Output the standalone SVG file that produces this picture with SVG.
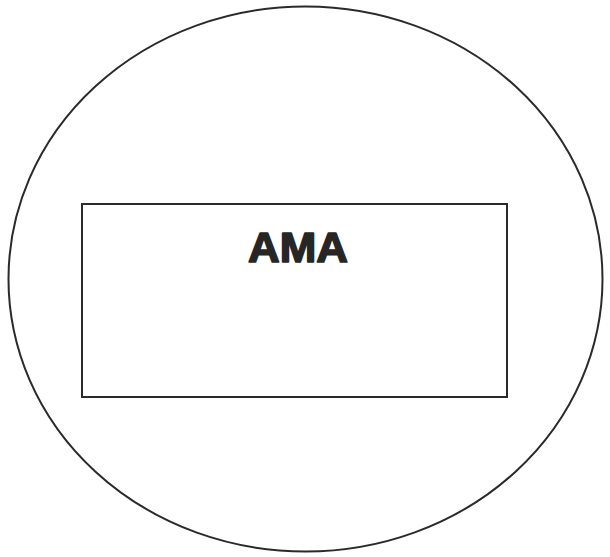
<svg xmlns="http://www.w3.org/2000/svg" width="610" height="557" viewBox="0 0 610 557">
<style>
.ln{fill:none;stroke:#2a2a2a;stroke-width:2}
.lbl{font-family:"Liberation Sans",Arial,sans-serif;font-weight:bold;font-size:42px;fill:#262626;stroke:#262626;stroke-width:1.6;stroke-linejoin:round}
</style>
<rect width="610" height="557" fill="#ffffff"/>
<g id="outer">
<ellipse class="ln" cx="305.5" cy="279" rx="297" ry="272.5"/>
</g>
<g id="ama">
<rect class="ln" x="82" y="204" width="425" height="193"/>
<text class="lbl" x="248" y="261.5" textLength="100" lengthAdjust="spacingAndGlyphs">AMA</text>
</g>
<g id="connectors"></g>
</svg>
